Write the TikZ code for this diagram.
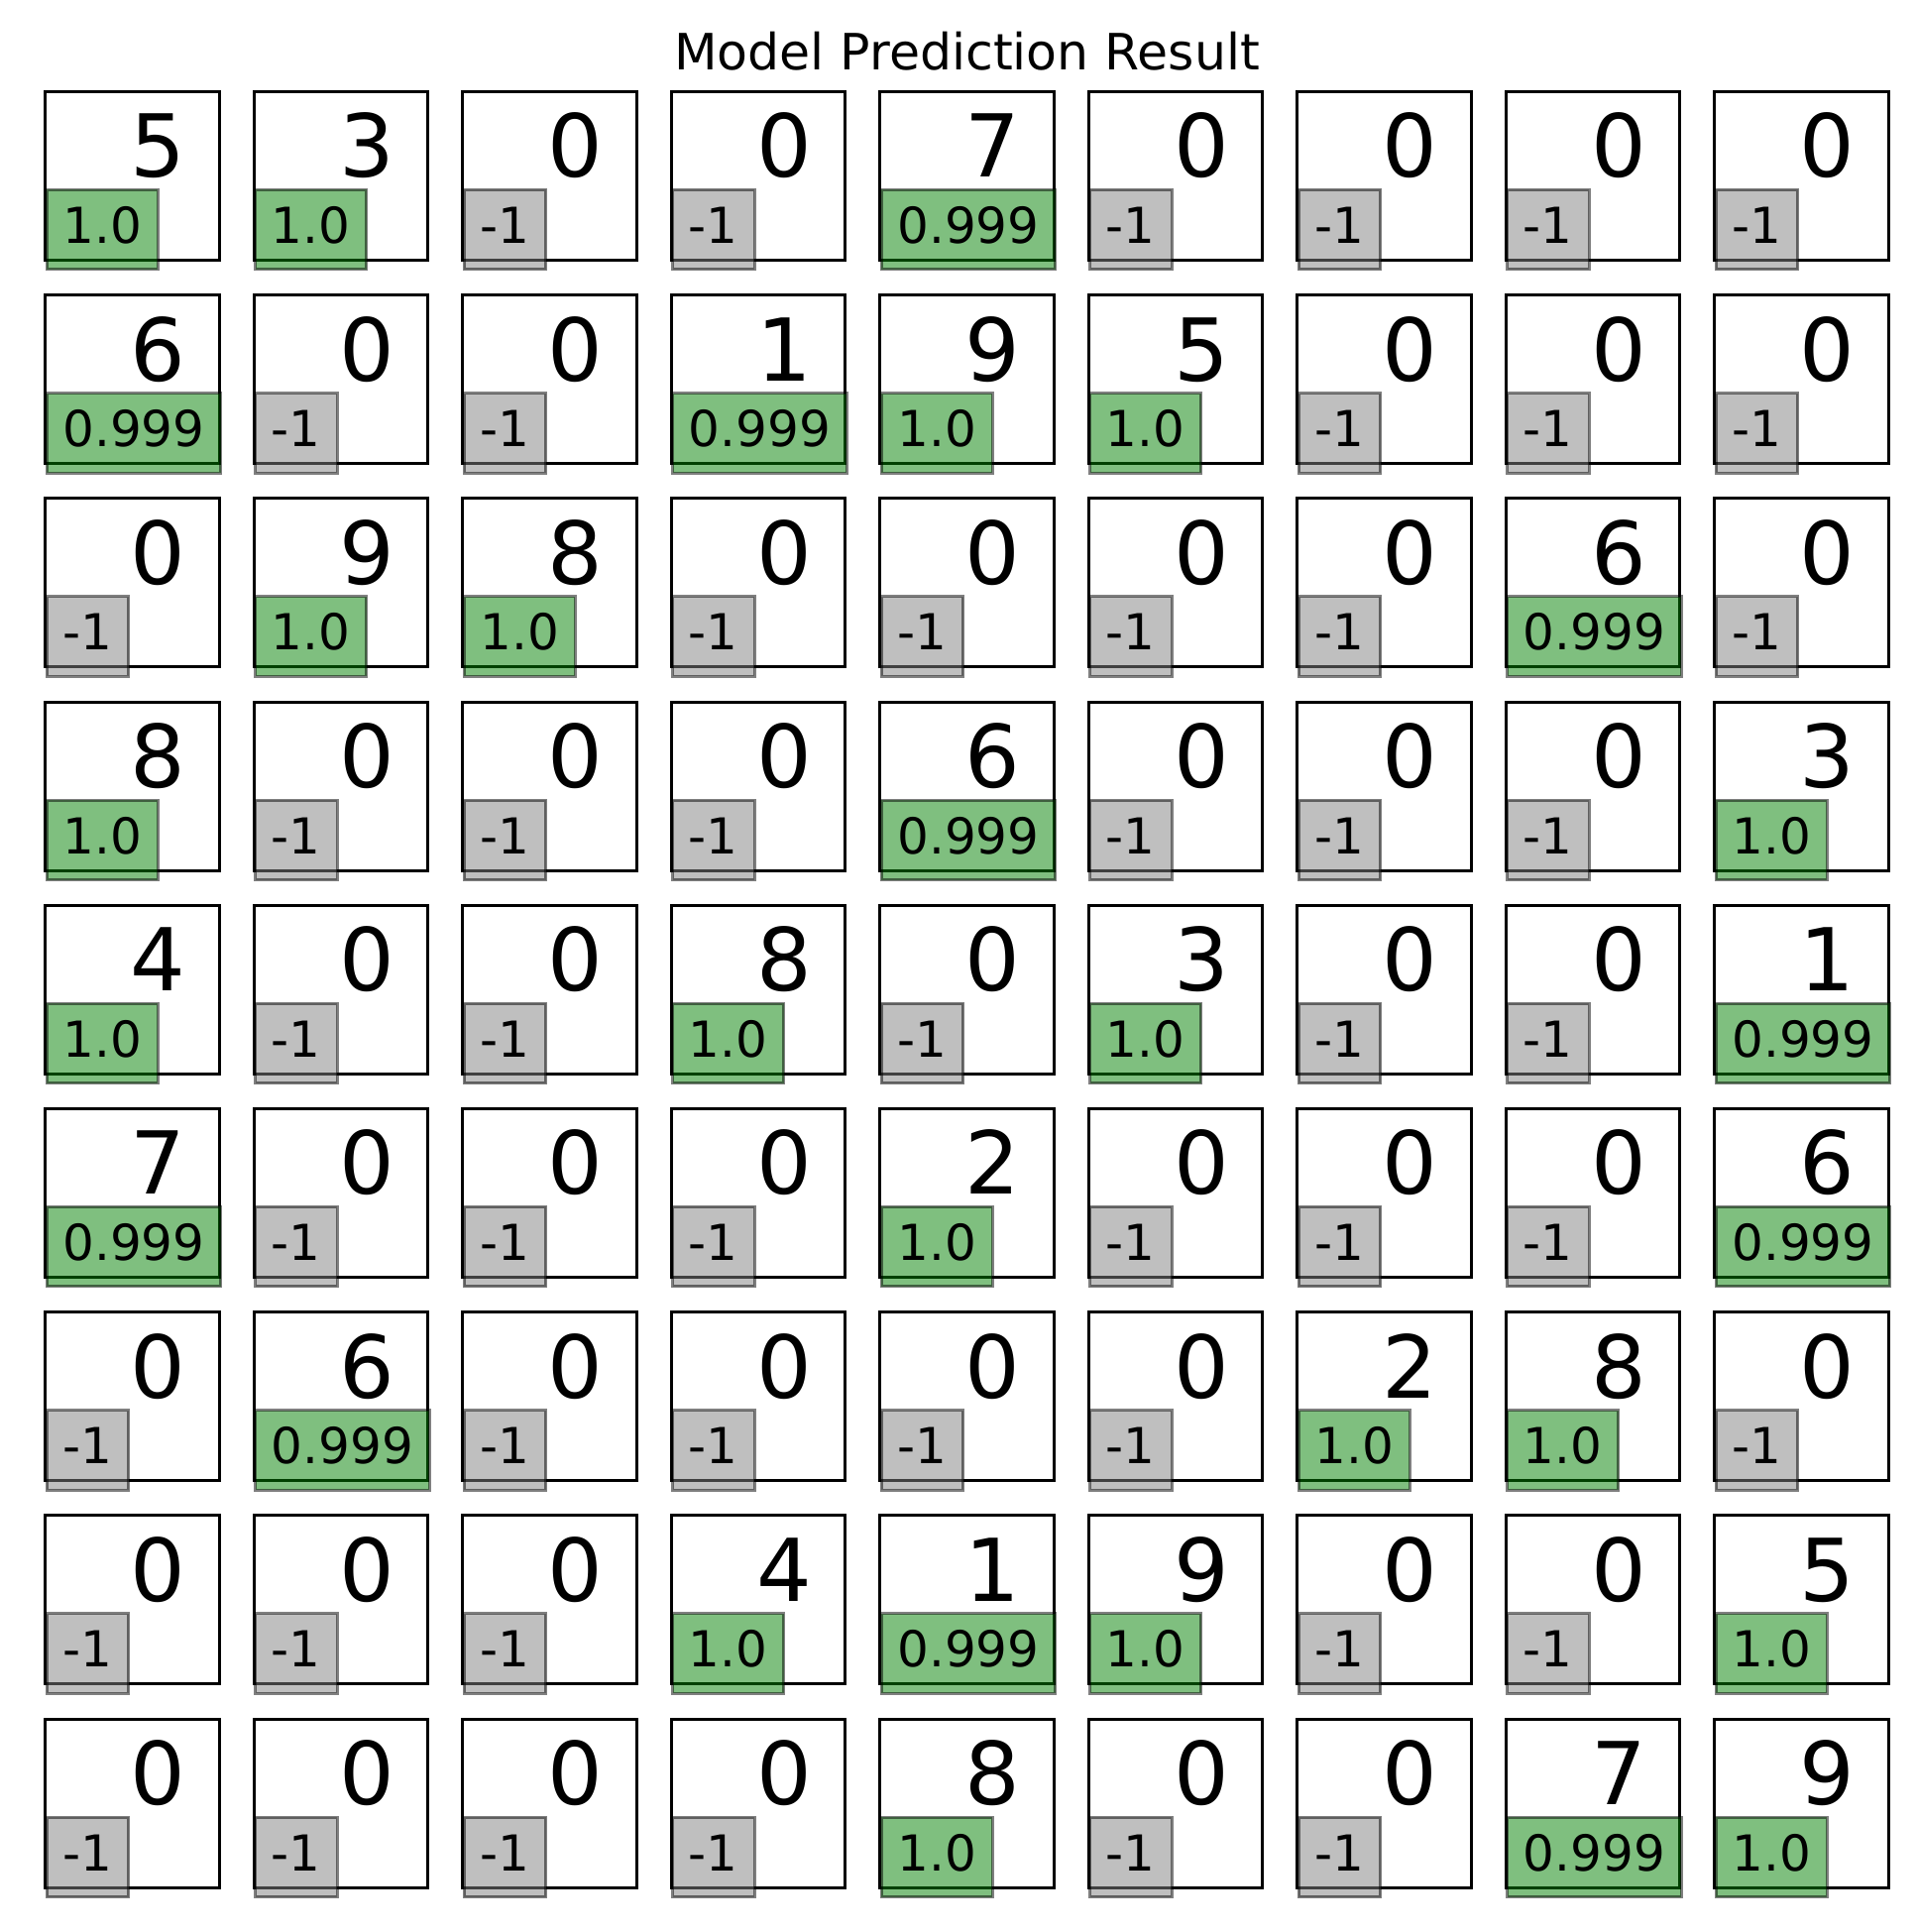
\documentclass[tikz,border=0pt]{standalone}
\usepackage{fontspec}
\setmainfont{DejaVu Sans}
\definecolor{mplgreen}{RGB}{0,128,0}
\definecolor{mplgray}{RGB}{128,128,128}
\tikzset{
  cellbox/.style={draw=black, line width=3pt, minimum width=175.6pt, minimum height=170pt, inner sep=0pt, anchor=north west, outer sep=0pt},
  digit/.style={anchor=base west, inner sep=0pt, font=\fontsize{87.5}{90}\selectfont},
  conflab/.style={anchor=base west, draw=black, draw opacity=0.5, fill opacity=0.5, text opacity=1, line width=3pt,
    inner xsep=16.3pt, inner ysep=15pt, text height=39pt, text depth=11.5pt, font=\fontsize{50}{55}\selectfont},
  goodlab/.style={conflab, fill=mplgreen},
  nolab/.style={conflab, fill=mplgray},
  titletext/.style={anchor=base, inner sep=0pt, font=\fontsize{50.5}{55}\selectfont}
}
\begin{document}
\begin{tikzpicture}[x=1pt, y=-1pt]
\useasboundingbox (0,0) rectangle (1934,1949);
\node[titletext] (title) at (975.5,70) {Model Prediction Result};
\foreach \cells [count=\r from 0] in {
  {5/1.0,3/1.0,0/x,0/x,7/0.999,0/x,0/x,0/x,0/x},
  {6/0.999,0/x,0/x,1/0.999,9/1.0,5/1.0,0/x,0/x,0/x},
  {0/x,9/1.0,8/1.0,0/x,0/x,0/x,0/x,6/0.999,0/x},
  {8/1.0,0/x,0/x,0/x,6/0.999,0/x,0/x,0/x,3/1.0},
  {4/1.0,0/x,0/x,8/1.0,0/x,3/1.0,0/x,0/x,1/0.999},
  {7/0.999,0/x,0/x,0/x,2/1.0,0/x,0/x,0/x,6/0.999},
  {0/x,6/0.999,0/x,0/x,0/x,0/x,2/1.0,8/1.0,0/x},
  {0/x,0/x,0/x,4/1.0,1/0.999,9/1.0,0/x,0/x,5/1.0},
  {0/x,0/x,0/x,0/x,8/1.0,0/x,0/x,7/0.999,9/1.0}} {
  \foreach \d/\p [count=\c from 0] in \cells {
    \pgfmathsetmacro{\xl}{45.6+\c*210.5}
    \pgfmathsetmacro{\yt}{92.4+\r*205.2}
    \node[cellbox] (b-\r-\c) at (\xl,\yt) {};
    \node[digit] (d-\r-\c) at ([xshift=86pt,yshift=-86.5pt]b-\r-\c.north west) {\d};
    \ifnum\d=0
      \node[nolab] (l-\r-\c) at ([yshift=-153pt]b-\r-\c.north west) {-1};
    \else
      \node[goodlab] (l-\r-\c) at ([yshift=-153pt]b-\r-\c.north west) {\p};
    \fi
  }
}
\end{tikzpicture}
\end{document}
